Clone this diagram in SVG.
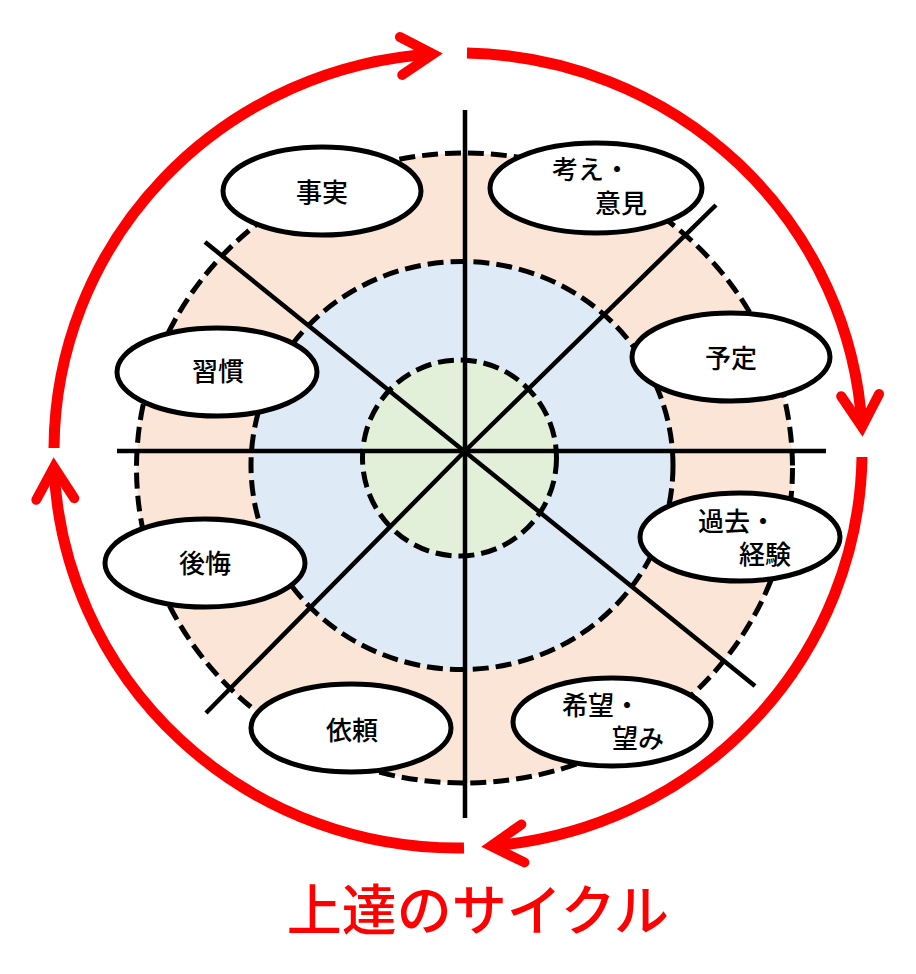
<svg xmlns="http://www.w3.org/2000/svg" width="916" height="974" viewBox="0 0 916 974">
  <style>
    .ring { stroke: #000; stroke-width: 5; stroke-dasharray: 16 7; }
    .spoke { stroke: #000; stroke-width: 4.5; fill: none; }
    .node ellipse { fill: #fff; stroke: #000; stroke-width: 5; }
    .label { font-family: "Noto Sans CJK JP", "Noto Sans", sans-serif; font-size: 26px; font-weight: 500; fill: #000; }
    .cycle { fill: none; stroke: #ff0000; stroke-width: 11; }
    .title { font-family: "Noto Sans CJK JP", "Noto Sans", sans-serif; font-size: 55px; font-weight: 500; fill: #ff0000; }
  </style>
  <defs>
    <marker id="chev" markerUnits="userSpaceOnUse" markerWidth="90" markerHeight="90" viewBox="-45 -45 90 90" refX="0" refY="0" orient="auto" overflow="visible">
      <path d="M-32,-19 L0,0 L-32,19" fill="none" stroke="#ff0000" stroke-width="10" stroke-linecap="round" stroke-linejoin="miter"/>
    </marker>
  </defs>
  <rect width="916" height="974" fill="#fff"/>

  <g id="rings">
    <ellipse class="ring" cx="464.5" cy="468" rx="328" ry="315" fill="#fbe5d6"/>
    <ellipse class="ring" cx="462" cy="465.5" rx="211" ry="204" fill="#deebf7"/>
    <ellipse class="ring" cx="459.5" cy="458" rx="97" ry="98" fill="#e2f0d9"/>
  </g>

  <g id="spokes">
    <line class="spoke" x1="465" y1="110" x2="465" y2="818"/>
    <line class="spoke" x1="117" y1="451" x2="826" y2="451"/>
    <line class="spoke" x1="205" y1="242" x2="755" y2="686"/>
    <path class="spoke" d="M716,205 L465,451 L206,713"/>
  </g>

  <g id="connectors">
    <path class="cycle" d="M467,53 A404,397 0 0 1 862,427" marker-end="url(#chev)"/>
    <path class="cycle" d="M862,457 A404,397 0 0 1 491,846" marker-end="url(#chev)"/>
    <path class="cycle" d="M464,848 A404,397 0 0 1 54,467" marker-end="url(#chev)"/>
    <path class="cycle" d="M54,448 A404,397 0 0 1 433,54" marker-end="url(#chev)"/>
  </g>

  <g id="node-jijitsu" class="node">
    <ellipse cx="322" cy="191" rx="99" ry="44"/>
    <text class="label" x="322" y="202" text-anchor="middle">事実</text>
  </g>
  <g id="node-kangae" class="node">
    <ellipse cx="596" cy="188" rx="106" ry="45"/>
    <text class="label" x="552" y="179">考え・</text>
    <text class="label" x="595" y="213">意見</text>
  </g>
  <g id="node-yotei" class="node">
    <ellipse cx="731" cy="357" rx="99" ry="44"/>
    <text class="label" x="731" y="368" text-anchor="middle">予定</text>
  </g>
  <g id="node-shukan" class="node">
    <ellipse cx="217" cy="372" rx="100" ry="44"/>
    <text class="label" x="218" y="381" text-anchor="middle">習慣</text>
  </g>
  <g id="node-kokai" class="node">
    <ellipse cx="205" cy="563" rx="100" ry="44"/>
    <text class="label" x="205" y="573" text-anchor="middle">後悔</text>
  </g>
  <g id="node-kako" class="node">
    <ellipse cx="740" cy="537" rx="100" ry="44"/>
    <text class="label" x="698" y="531">過去・</text>
    <text class="label" x="739" y="564">経験</text>
  </g>
  <g id="node-irai" class="node">
    <ellipse cx="351" cy="728" rx="100" ry="44"/>
    <text class="label" x="352" y="740" text-anchor="middle">依頼</text>
  </g>
  <g id="node-kibo" class="node">
    <ellipse cx="612" cy="722" rx="99" ry="44"/>
    <text class="label" x="562" y="715">希望・</text>
    <text class="label" x="612" y="748">望み</text>
  </g>

  <text class="title" x="478" y="930" text-anchor="middle">上達のサイクル</text>
</svg>
